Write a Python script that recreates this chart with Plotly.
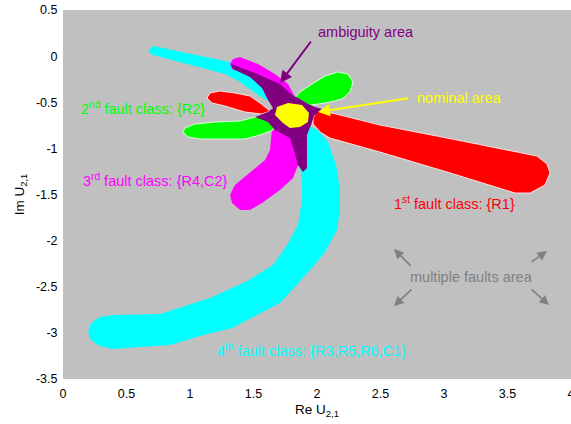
import plotly.graph_objects as go

# ---- region outlines (data units: Re U21, Im U21) ----
red_right_x = [1.969, 2.008, 2.181, 2.496, 3.024, 3.598, 3.732, 3.811, 3.835, 3.795, 3.677, 3.559, 3.024, 2.496, 2.102, 2.024, 1.969]
red_right_y = [-0.671, -0.584, -0.638, -0.747, -0.888, -1.040, -1.083, -1.170, -1.267, -1.397, -1.484, -1.484, -1.256, -1.040, -0.888, -0.822, -0.736]
red_left_x = [1.157, 1.236, 1.354, 1.472, 1.551, 1.630, 1.567, 1.433, 1.276, 1.173, 1.134]
red_left_y = [-0.400, -0.378, -0.400, -0.432, -0.508, -0.595, -0.628, -0.606, -0.541, -0.508, -0.454]

green_up_x = [1.811, 1.866, 1.961, 2.063, 2.165, 2.244, 2.283, 2.260, 2.197, 2.102, 2.008, 1.906]
green_up_y = [-0.476, -0.389, -0.302, -0.216, -0.172, -0.194, -0.280, -0.389, -0.465, -0.498, -0.519, -0.541]
green_left_x = [0.961, 1.039, 1.197, 1.394, 1.512, 1.614, 1.669, 1.654, 1.551, 1.433, 1.276, 1.079, 0.984, 0.945]
green_left_y = [-0.779, -0.736, -0.714, -0.703, -0.660, -0.628, -0.693, -0.801, -0.855, -0.899, -0.899, -0.899, -0.877, -0.822]

magenta_up_x = [1.315, 1.339, 1.394, 1.535, 1.669, 1.772, 1.827, 1.748, 1.591, 1.433, 1.331]
magenta_up_y = [-0.086, -0.031, -0.009, -0.086, -0.194, -0.302, -0.443, -0.421, -0.291, -0.183, -0.140]
magenta_low_x = [1.646, 1.843, 1.866, 1.811, 1.709, 1.567, 1.472, 1.394, 1.331, 1.315, 1.354, 1.472, 1.591, 1.630]
magenta_low_y = [-0.779, -0.822, -1.126, -1.321, -1.451, -1.592, -1.668, -1.668, -1.592, -1.505, -1.397, -1.267, -1.126, -1.018]

cyan_up_x = [0.685, 0.709, 1.315, 1.472, 1.630, 1.748, 1.630, 1.535, 1.394, 1.276, 0.709, 0.677]
cyan_up_y = [0.077, 0.110, -0.064, -0.172, -0.313, -0.454, -0.498, -0.421, -0.280, -0.194, 0.012, 0.045]
cyan_low_x = [1.906, 2.008, 2.087, 2.150, 2.181, 2.181, 2.157, 2.063, 1.961, 1.827, 1.709, 1.512, 1.331, 1.079, 0.843,
              0.606, 0.394, 0.291, 0.220, 0.197, 0.220, 0.291, 0.394, 0.764, 1.157, 1.449, 1.654, 1.764, 1.850, 1.882,
              1.882, 1.835, 1.827]
cyan_low_y = [-0.747, -0.801, -0.932, -1.180, -1.451, -1.668, -1.885, -2.124, -2.297, -2.503, -2.677, -2.817, -2.948,
              -3.034, -3.132, -3.154, -3.176, -3.143, -3.078, -2.991, -2.893, -2.828, -2.807, -2.796, -2.622, -2.438,
              -2.265, -2.048, -1.831, -1.560, -1.343, -0.910, -0.779]

ambig_x = [1.323, 1.512, 1.709, 1.803, 1.866, 1.929, 1.984, 2.039, 1.976, 1.953, 1.921, 1.921, 1.890, 1.850, 1.819,
           1.787, 1.669, 1.614, 1.512, 1.614, 1.654, 1.614, 1.567, 1.472, 1.339]
ambig_y = [-0.086, -0.183, -0.302, -0.421, -0.465, -0.519, -0.551, -0.573, -0.649, -0.747, -0.855, -1.213, -1.256,
           -1.180, -1.018, -0.888, -0.801, -0.714, -0.660, -0.606, -0.562, -0.476, -0.345, -0.226, -0.140]

nominal_x = [1.685, 1.772, 1.882, 1.937, 1.929, 1.866, 1.787, 1.732, 1.669]
nominal_y = [-0.551, -0.508, -0.530, -0.617, -0.714, -0.768, -0.779, -0.725, -0.638]

x_ticks = [0, 0.5, 1, 1.5, 2, 2.5, 3, 3.5, 4]
x_tick_labels = ["0", "0.5", "1", "1.5", "2", "2.5", "3", "3.5", "4"]
y_ticks = [0.5, 0, -0.5, -1, -1.5, -2, -2.5, -3, -3.5]
y_tick_labels = ["0.5", "0", "-0.5", "-1", "-1.5", "-2", "-2.5", "-3", "-3.5"]

RED, GREEN, CYAN, MAGENTA, PURPLE, YELLOW = "#ff0000", "#00ff00", "#00ffff", "#ff00ff", "#800080", "#ffff00"
GRAY_TXT = "#808080"
FONT = "Liberation Sans, Arial, sans-serif"

fig = go.Figure()


def region(xs, ys, color, edge=None):
    fig.add_trace(go.Scatter(
        x=xs + xs[:1], y=ys + ys[:1], mode="lines", fill="toself", fillcolor=color,
        line=dict(color=edge if edge else color, width=1 if edge else 0),
        hoverinfo="skip", showlegend=False))


region(cyan_up_x, cyan_up_y, CYAN)
region(cyan_low_x, cyan_low_y, CYAN)
region(magenta_up_x, magenta_up_y, MAGENTA)
region(magenta_low_x, magenta_low_y, MAGENTA)
region(red_left_x, red_left_y, RED, "rgba(255,235,235,0.9)")
region(red_right_x, red_right_y, RED, "rgba(255,235,235,0.9)")
region(green_up_x, green_up_y, GREEN, "rgba(235,255,235,0.9)")
region(green_left_x, green_left_y, GREEN, "rgba(235,255,235,0.9)")
region(ambig_x, ambig_y, PURPLE)
region(nominal_x, nominal_y, YELLOW)

tf = dict(family=FONT, size=14.5)
ann = []
# labels
ann.append(dict(x=1.992, y=0.262, text="ambiguity area", xanchor="left", font=dict(tf, color=PURPLE)))
ann.append(dict(x=2.772, y=-0.454, text="nominal area", xanchor="left", font=dict(tf, color=YELLOW)))
ann.append(dict(x=0.126, y=-0.562, text="2<sup>nd</sup> fault class: {R2}", xanchor="left", font=dict(tf, color=GREEN)))
ann.append(dict(x=0.142, y=-1.343, text="3<sup>rd</sup> fault class: {R4,C2}", xanchor="left", font=dict(tf, color=MAGENTA)))
ann.append(dict(x=2.591, y=-1.592, text="1<sup>st</sup> fault class: {R1}", xanchor="left", font=dict(tf, color=RED)))
ann.append(dict(x=1.197, y=-3.186, text="4<sup>th</sup> fault class: {R3,R5,R6,C1}", xanchor="left", font=dict(tf, color=CYAN)))
ann.append(dict(x=3.217, y=-2.394, text="multiple faults area", xanchor="center", font=dict(tf, color=GRAY_TXT)))
for a in ann:
    a.update(xref="x", yref="y", showarrow=False, yanchor="middle")

# arrows: (tail, head, color)
arrows = [
    ((1.961, 0.175), (1.709, -0.291), PURPLE),
    ((2.732, -0.454), (2.008, -0.606), YELLOW),
    ((2.748, -2.287), (2.606, -2.092), GRAY_TXT),
    ((3.677, -2.243), (3.811, -2.113), GRAY_TXT),
    ((2.756, -2.514), (2.606, -2.709), GRAY_TXT),
    ((3.677, -2.514), (3.827, -2.698), GRAY_TXT),
]
for (tx, ty), (hx, hy), c in arrows:
    ann.append(dict(x=hx, y=hy, ax=tx, ay=ty, xref="x", yref="y", axref="x", ayref="y", text="",
                    showarrow=True, arrowhead=2, arrowsize=1.2, arrowwidth=2 if c != GRAY_TXT else 1.6, arrowcolor=c))

fig.update_layout(
    width=571, height=424,
    margin=dict(l=63, r=0, t=10, b=45),
    paper_bgcolor="white", plot_bgcolor="#c0c0c0",
    font=dict(family=FONT, size=12.5, color="black"),
    annotations=ann,
    xaxis=dict(range=[0, 4], tickvals=x_ticks, ticktext=x_tick_labels, showgrid=False, zeroline=False,
               showline=False, ticks="outside", ticklen=3, tickcolor="white", tickfont=dict(size=12.5),
               ticklabeloverflow="allow",
               title=dict(text="Re U<sub>2,1</sub>", font=dict(size=13.5), standoff=4), automargin=False),
    yaxis=dict(range=[-3.5, 0.5], tickvals=y_ticks, ticktext=y_tick_labels, showgrid=False, zeroline=False,
               showline=False, ticks="outside", ticklen=2, tickcolor="white", tickfont=dict(size=12.5),
               ticklabeloverflow="allow",
               title=dict(text="Im U<sub>2,1</sub>", font=dict(size=13.5), standoff=8), automargin=False),
)

fig.write_html("out.html")
